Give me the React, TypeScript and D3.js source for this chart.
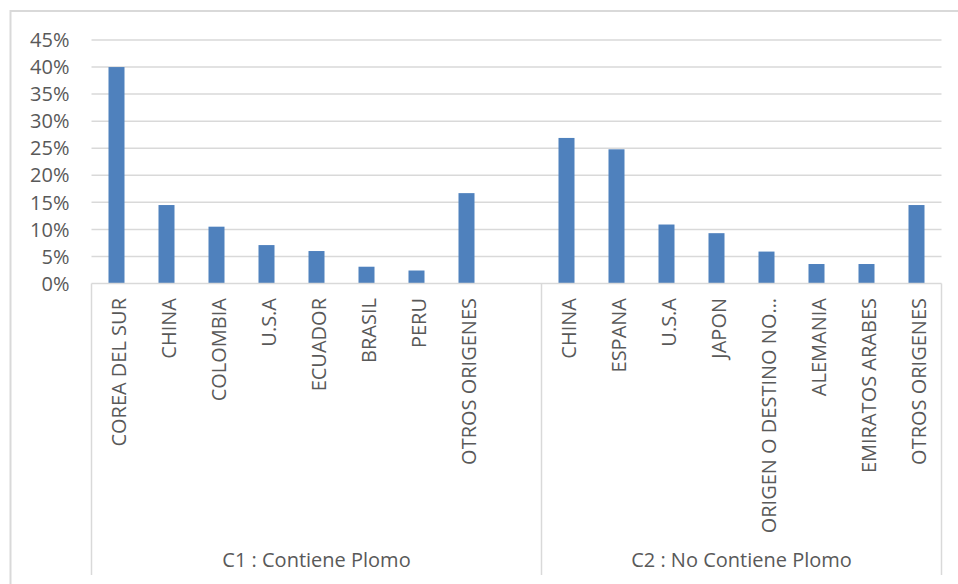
import React from "react";
import * as d3 from "d3";

// ---- data ----
const groupLabels = ["C1 : Contiene Plomo", "C2 : No Contiene Plomo"];
const c1Categories = ["COREA DEL SUR", "CHINA", "COLOMBIA", "U.S.A", "ECUADOR", "BRASIL", "PERU", "OTROS ORIGENES", ""];
const c1Values: (number | null)[] = [40, 14.5, 10.5, 7.1, 6.0, 3.1, 2.4, 16.7, null];
const c2Categories = ["CHINA", "ESPANA", "U.S.A", "JAPON", "ORIGEN O DESTINO NO…", "ALEMANIA", "EMIRATOS ARABES", "OTROS ORIGENES"];
const c2Values: (number | null)[] = [26.9, 24.8, 10.9, 9.3, 5.9, 3.6, 3.6, 14.5];
const yTicks = [0, 5, 10, 15, 20, 25, 30, 35, 40, 45];

const W = 958;
const H = 584;
const FONT = "'Open Sans', sans-serif";
const TEXT = "#595959";
const GRID = "#d9d9d9";
const BAR = "#4f81bd";

type Row = { key: string; group: number; label: string; value: number | null };
const rows: Row[] = [
  ...c1Categories.map((c, i) => ({ key: `0|${i}`, group: 0, label: c, value: c1Values[i] })),
  ...c2Categories.map((c, i) => ({ key: `1|${i}`, group: 1, label: c, value: c2Values[i] })),
];

export default function App() {
  const left = 91.5;
  const right = 941.5;
  const top = 40;
  const base = 283.5;
  const axisBottom = 575;

  const x = d3.scaleBand<string>().domain(rows.map((r) => r.key)).range([left, right]).padding(0);
  const y = d3.scaleLinear().domain([0, 45]).range([base, top]);
  const bw = 16;

  const groups = [0, 1].map((g) => {
    const rs = rows.filter((r) => r.group === g);
    const x0 = x(rs[0].key)!;
    const x1 = x(rs[rs.length - 1].key)! + x.bandwidth();
    return { g, x0, x1 };
  });

  return (
    <div style={{ position: "absolute", left: 0, top: 0 }}>
      <svg width={W} height={H} style={{ display: "block", background: "#fff" }}>
        <rect x={10.5} y={11} width={W + 20} height={H + 20} fill="#fff" stroke={GRID} strokeWidth={2} />
        {/* gridlines */}
        {yTicks.map((t) => (
          <g key={t}>
            {t > 0 && (
              <line x1={left} x2={right} y1={y(t)} y2={y(t)} stroke={GRID} strokeWidth={1.5} />
            )}
            <text
              x={69.5}
              y={y(t)}
              dy="0.36em"
              textAnchor="end"
              fontFamily={FONT}
              fontSize={20}
              fill={TEXT}
            >
              {d3.format(".0f")(t)}%
            </text>
          </g>
        ))}
        {/* bars */}
        {rows
          .filter((r) => r.value !== null)
          .map((r) => {
            const cx = x(r.key)! + x.bandwidth() / 2;
            return (
              <rect
                key={r.key}
                x={cx - bw / 2}
                y={y(r.value as number)}
                width={bw}
                height={base - y(r.value as number)}
                fill={BAR}
              />
            );
          })}
        {/* category axis */}
        <line x1={left} x2={right} y1={base} y2={base} stroke={GRID} strokeWidth={1.5} />
        {[groups[0].x0, groups[0].x1, groups[1].x1].map((xx, i) => (
          <line key={i} x1={xx} x2={xx} y1={base} y2={axisBottom} stroke={GRID} strokeWidth={1.5} />
        ))}
        {rows
          .filter((r) => r.label !== "")
          .map((r) => {
            const cx = x(r.key)! + x.bandwidth() / 2;
            return (
              <text
                key={r.key}
                transform={`translate(${cx + 9},298) rotate(-90)`}
                textAnchor="end"
                fontFamily={FONT}
                fontSize={20}
                fill={TEXT}
              >
                {r.label}
              </text>
            );
          })}
        {groups.map((gr) => (
          <text
            key={gr.g}
            x={(gr.x0 + gr.x1) / 2}
            y={567}
            textAnchor="middle"
            fontFamily={FONT}
            fontSize={20}
            fill={TEXT}
          >
            {groupLabels[gr.g]}
          </text>
        ))}
      </svg>
    </div>
  );
}
